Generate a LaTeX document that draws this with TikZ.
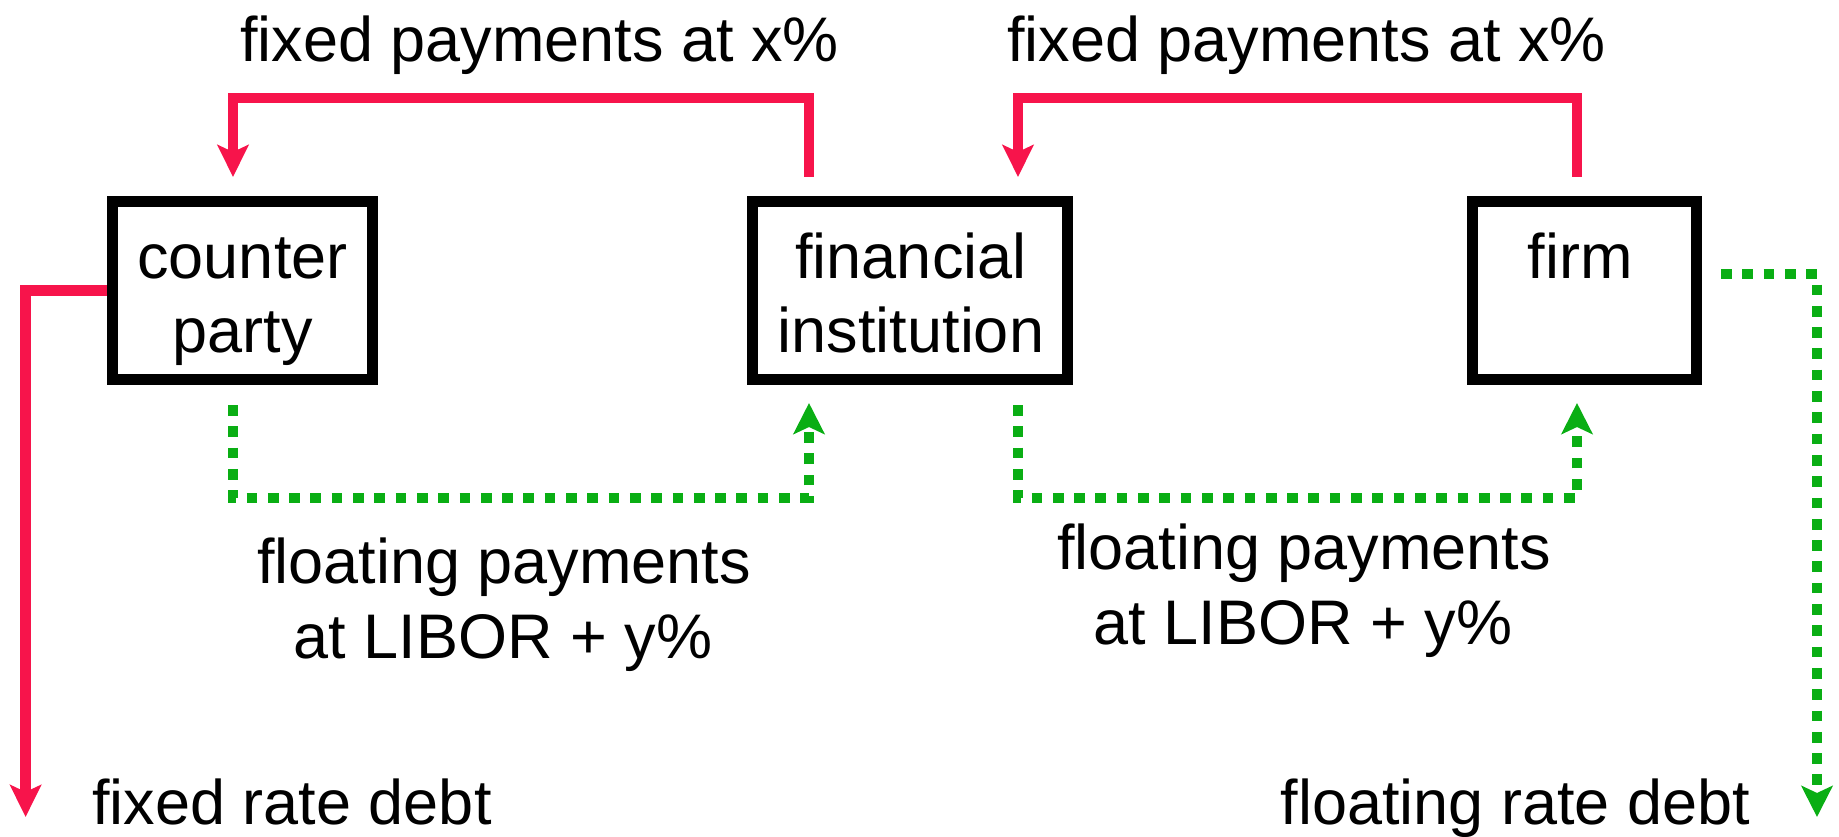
\documentclass[tikz,border=0pt]{standalone}
\usepackage{fontspec}
\setmainfont{Liberation Sans}
\usetikzlibrary{arrows.meta}
\definecolor{payred}{RGB}{247,20,75}
\definecolor{paygreen}{RGB}{10,174,20}
\begin{document}
\begin{tikzpicture}[x=1pt,y=-1pt,
  partybox/.style={draw=black,line width=10.7pt,rectangle,inner sep=0pt},
  lbl/.style={inner sep=0pt,anchor=base,font=\fontsize{63}{75}\selectfont},
  fixedflow/.style={draw=payred,line width=10.7pt,-{Stealth[length=32pt,width=31pt,inset=7pt]}},
  floatflow/.style={draw=paygreen,line width=10.7pt,dash pattern=on 10.7pt off 10.6pt,-{Stealth[length=31pt,width=31pt,inset=7pt]}}]
\useasboundingbox (0,0) rectangle (1839,837);

% boxes
\node[partybox,minimum width=260.3pt,minimum height=178.3pt] (cp) at (242.5,290.5) {};
\node[partybox,minimum width=315.3pt,minimum height=178.3pt] (fi) at (910,290.5) {};
\node[partybox,minimum width=224.3pt,minimum height=178.3pt] (fm) at (1584.5,290.5) {};

% box texts
\node[lbl] (cp1) at (242.5,278.5) {counter};
\node[lbl] (cp2) at (242.5,352.5) {party};
\node[lbl] (fi1) at (911,278.5) {financial};
\node[lbl] (fi2) at (911,352.5) {institution};
\node[lbl] (fm1) at (1580,278.5) {firm};

% flow labels
\node[lbl] (tl) at (539.5,61.5) {fixed payments at x\%};
\node[lbl] (tr) at (1306.5,61.5) {fixed payments at x\%};
\node[lbl] (fl1) at (504,583) {floating payments};
\node[lbl] (fl2) at (503,658) {at LIBOR + y\%};
\node[lbl] (fr1) at (1304,569) {floating payments};
\node[lbl] (fr2) at (1303,644) {at LIBOR + y\%};
\node[lbl] (fd) at (292,824) {fixed rate debt};
\node[lbl] (vd) at (1515.5,824) {floating rate debt};

% end points of the flows
\coordinate (r1s) at ([xshift=-101pt,yshift=19pt]fi.north);
\coordinate (r1e) at ([xshift=-9.5pt,yshift=19pt]cp.north);
\coordinate (r2s) at ([xshift=-7.5pt,yshift=19pt]fm.north);
\coordinate (r2e) at ([xshift=108pt,yshift=19pt]fi.north);
\coordinate (r3e) at (25.6,817);
\coordinate (g1s) at ([xshift=-9.5pt,yshift=-20pt]cp.south);
\coordinate (g1e) at ([xshift=-101pt,yshift=-18pt]fi.south);
\coordinate (g2s) at ([xshift=108pt,yshift=-20pt]fi.south);
\coordinate (g2e) at ([xshift=-7.5pt,yshift=-18pt]fm.south);
\coordinate (g3s) at ([xshift=19pt,yshift=16.5pt]fm.east);
\coordinate (g3e) at (1817,817);

% fixed payments (red)
\draw[fixedflow] (r1s) -- ++(0,-79) -| (r1e);
\draw[fixedflow] (r2s) -- ++(0,-79) -| (r2e);
\draw[fixedflow] (cp.west) -| (r3e);

% floating payments (green, dotted)
\draw[floatflow] (g1s) -- ++(0,93) -| (g1e);
\draw[floatflow] (g2s) -- ++(0,93) -| (g2e);
\draw[floatflow] (g3s) -| (g3e);
\end{tikzpicture}
\end{document}
